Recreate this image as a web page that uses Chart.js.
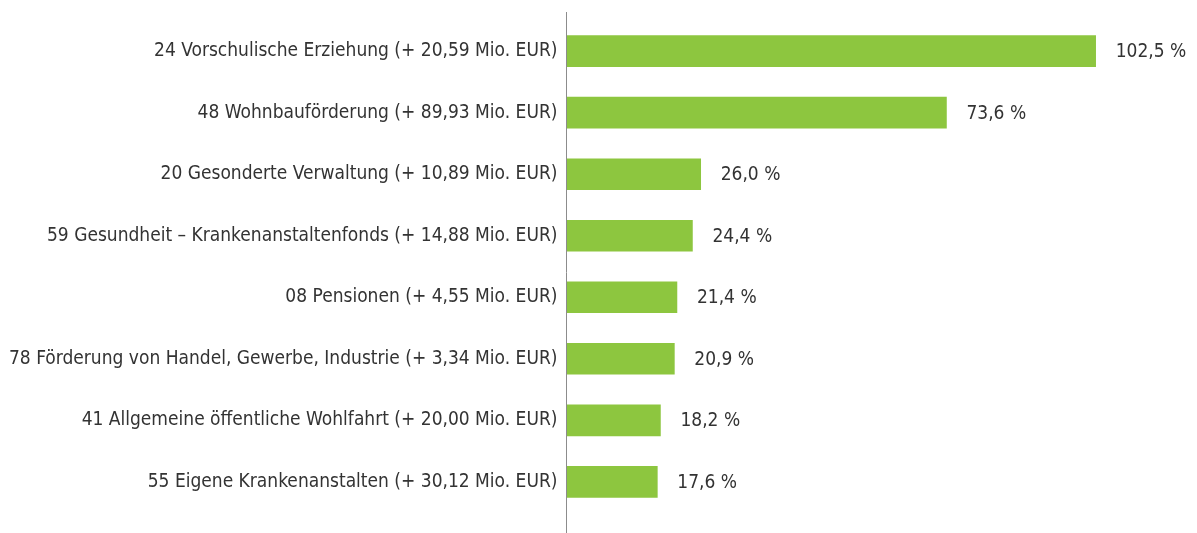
<!DOCTYPE html>
<html>
<head>
<meta charset="utf-8">
<script src="https://cdn.jsdelivr.net/npm/chart.js@4"></script>
<style>
    html, body { margin: 0; padding: 0; background: #ffffff; }
    #wrap { width: 1197px; height: 533px; position: relative; }
</style>
</head>
<body>
<div id="wrap"><canvas id="barChart"></canvas></div>
<script>
const categories = [
    '24 Vorschulische Erziehung (+ 20,59 Mio. EUR)',
    '48 Wohnbauförderung (+ 89,93 Mio. EUR)',
    '20 Gesonderte Verwaltung (+ 10,89 Mio. EUR)',
    '59 Gesundheit – Krankenanstaltenfonds (+ 14,88 Mio. EUR)',
    '08 Pensionen (+ 4,55 Mio. EUR)',
    '78 Förderung von Handel, Gewerbe, Industrie (+ 3,34 Mio. EUR)',
    '41 Allgemeine öffentliche Wohlfahrt (+ 20,00 Mio. EUR)',
    '55 Eigene Krankenanstalten (+ 30,12 Mio. EUR)'
];
const increasePct = [102.5, 73.6, 26.0, 24.4, 21.4, 20.9, 18.2, 17.6];
const valueLabels = ['102,5 %', '73,6 %', '26,0 %', '24,4 %', '21,4 %', '20,9 %', '18,2 %', '17,6 %'];

const fontFamily = '"DejaVu Sans Condensed", "DejaVu Sans", sans-serif';
const textColor = '#333333';

// Prozentwerte rechts neben die Balken schreiben
const valueLabelPlugin = {
    id: 'valueLabels',
    afterDatasetsDraw(chart) {
        const ctx = chart.ctx;
        const meta = chart.getDatasetMeta(0);
        ctx.save();
        ctx.font = '19px ' + fontFamily;
        ctx.fillStyle = textColor;
        ctx.textAlign = 'left';
        ctx.textBaseline = 'middle';
        meta.data.forEach((bar, i) => {
            ctx.fillText(valueLabels[i], bar.x + 20, bar.y + 1);
        });
        ctx.restore();
    }
};

// senkrechte Achsenlinie bis an den unteren Rand
const axisLinePlugin = {
    id: 'axisLine',
    afterDraw(chart) {
        const ctx = chart.ctx;
        const x = Math.round(chart.scales.x.left) + 0.5;
        ctx.save();
        ctx.strokeStyle = '#8c8c8c';
        ctx.lineWidth = 1;
        ctx.beginPath();
        ctx.moveTo(x, 12);
        ctx.lineTo(x, chart.height);
        ctx.stroke();
        ctx.restore();
    }
};

new Chart(document.getElementById('barChart').getContext('2d'), {
    type: 'bar',
    data: {
        labels: categories,
        datasets: [{
            data: increasePct,
            backgroundColor: '#8dc63f',
            barThickness: 31
        }]
    },
    options: {
        indexAxis: 'y',
        responsive: true,
        maintainAspectRatio: false,
        animation: false,
        plugins: {
            legend: { display: false },
            tooltip: { enabled: false }
        },
        layout: {
            padding: { left: 0, right: 11, top: 11, bottom: 15 }
        },
        scales: {
            x: {
                min: 0,
                max: 120,
                display: false
            },
            y: {
                grid: { display: false, drawTicks: false },
                border: { display: false },
                ticks: {
                    color: textColor,
                    font: { family: fontFamily, size: 19 },
                    padding: 9
                }
            }
        }
    },
    plugins: [valueLabelPlugin, axisLinePlugin]
});
</script>
</body>
</html>
